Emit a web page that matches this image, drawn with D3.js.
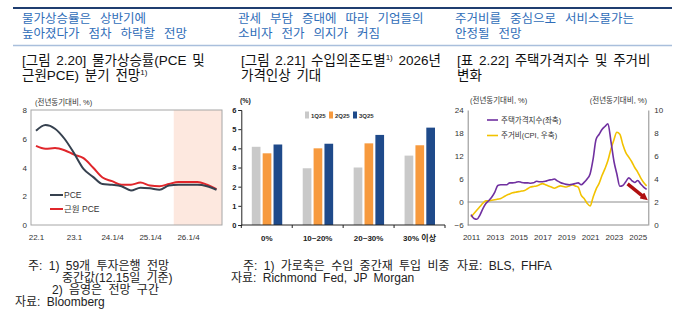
<!DOCTYPE html>
<html lang="ko">
  <head>
    <meta charset="utf-8">
    <script src="https://d3js.org/d3.v7.min.js"></script>
    <style>
      body {margin: 0; background: white;}
      svg {display: block; font-family: "Liberation Sans", "Noto Sans CJK KR", sans-serif;}
      .head {fill: #2f6db8; font-size: 12.5px; word-spacing: 5.5px;}
      .sub {fill: #111; font-size: 13.5px; word-spacing: 2px;}
      .note {fill: #222; font-size: 12px; word-spacing: 3px;}
    </style>
  </head>
  <body>
    <script type="text/javascript">
      // panel 1: PCE / core PCE, quarterly, with forecast from 25.4
      const quarters = ["22.1", "22.2", "22.3", "22.4", "23.1", "23.2", "23.3", "23.4",
        "24.1", "24.2", "24.3", "24.4", "25.1", "25.2", "25.3", "25.4",
        "26.1", "26.2", "26.3", "26.4"];
      const pce = [6.55, 6.95, 6.7, 6.0, 5.0, 3.9, 3.35, 2.85, 2.8, 2.7, 2.4, 2.6,
        2.55, 2.45, 2.75, 2.8, 2.8, 2.8, 2.7, 2.45];
      const corePce = [5.5, 5.3, 5.35, 5.2, 4.9, 4.65, 4.0, 3.3, 3.05, 2.8, 2.8, 2.95,
        2.75, 2.7, 2.85, 3.0, 3.0, 3.0, 2.8, 2.5];
      const pceTicks = ["22.1", "23.1", "24.1", "25.1", "26.1"];
      const pceTickLabels = ["22.1", "23.1", "24.1/4", "25.1/4", "26.1/4"];
      const forecastFrom = "25.4";

      // panel 2: expected 2026 price increase by import share
      const shares = ["0%", "10~20%", "20~30%", "30% 이상"];
      const surveys = ["1Q25", "2Q25", "3Q25"];
      const q1 = [4.08, 2.96, 3.0, 3.62];
      const q2 = [3.74, 4.0, 4.26, 4.16];
      const q3 = [4.2, 4.24, 4.7, 5.08];

      // panel 3: house price index (left) and shelter CPI (right), quarterly 2011-2025
      const housingYears = d3.range(2011, 2025.9, 0.25);
      const housePrice = [-3.3, -4.3, -4.5, -3.4, -1.7, -0.4, 0.4, 1.3,
        2.6, 4.3, 4.5, 4.5, 4.5, 5.0, 5.0, 5.1,
        5.3, 5.1, 5.0, 5.0, 4.9, 5.0, 5.4, 5.3,
        5.3, 5.4, 5.7, 5.8, 6.0, 5.5, 5.1, 4.8,
        4.6, 4.5, 4.6, 4.8, 5.0, 4.5, 5.1, 6.0,
        7.3, 11.1, 16.3, 17.6, 18.9, 19.7, 20.4, 15.9,
        10.7, 7.3, 4.1, 4.3, 5.3, 6.3, 5.6, 5.1,
        5.6, 4.7, 3.9, 3.3];
      const shelterCpi = [0.7, 1.0, 1.3, 1.6, 1.9, 2.1, 2.1, 2.15,
        2.2, 2.25, 2.3, 2.45, 2.6, 2.7, 2.8, 2.85,
        2.9, 2.95, 3.0, 3.15, 3.3, 3.35, 3.4, 3.5,
        3.6, 3.5, 3.4, 3.3, 3.2, 3.3, 3.4, 3.35,
        3.3, 3.4, 3.5, 3.4, 3.3, 2.6, 2.3, 1.9,
        1.65, 2.4, 3.1, 3.6, 4.3, 4.9, 5.6, 6.6,
        7.4, 8.06, 7.9, 7.0, 6.3, 5.9, 5.5, 5.0,
        4.6, 4.1, 3.7, 3.4];
      const yearTicks = [2011, 2013, 2015, 2017, 2019, 2021, 2023, 2025];
      const arrowFrom = [2024.15, 4.7];
      const arrowTo = [2025.6, 1.1];

      const w = 680;
      const h = 321;

      var svg = d3.select("body")
        .append("svg")
        .attr("width", w)
        .attr("height", h);

      // header rules
      svg.append("line").attr("x1", 13).attr("x2", 672).attr("y1", 8).attr("y2", 8)
        .attr("stroke", "#1f3d70").attr("stroke-width", 2);
      svg.append("line").attr("x1", 13).attr("x2", 672).attr("y1", 45.5).attr("y2", 45.5)
        .attr("stroke", "#a9bfdc").attr("stroke-width", 1.5);

      // blue headlines
      const heads = [
        [22, ["물가상승률은 상반기에", "높아졌다가 점차 하락할 전망"]],
        [238, ["관세 부담 증대에 따라 기업들의", "소비자 전가 의지가 커짐"]],
        [455, ["주거비를 중심으로 서비스물가는", "안정될 전망"]]
      ];
      heads.forEach(function(hd) {
        hd[1].forEach(function(t, i) {
          svg.append("text").attr("class", "head")
            .attr("x", hd[0]).attr("y", 22.5 + i * 15).text(t);
        });
      });

      // figure titles, superscript parts are objects {sup: ...}
      function subLine(x, y, parts) {
        var t = svg.append("text").attr("class", "sub").attr("x", x).attr("y", y);
        var shift = 0;
        parts.forEach(function(p) {
          if (typeof p === "object") {
            t.append("tspan").attr("dy", -5).style("font-size", "8px").text(p.sup);
            shift = 5;
          } else {
            t.append("tspan").attr("dy", shift).text(p);
            shift = 0;
          }
        });
      }
      subLine(22, 65, ["[그림 2.20] 물가상승률(PCE 및"]);
      subLine(22, 80, ["근원PCE) 분기 전망", {sup: "1)"}]);
      subLine(241, 65, ["[그림 2.21] 수입의존도별", {sup: "1)"}, " 2026년"]);
      subLine(241, 80, ["가격인상 기대"]);
      subLine(457, 65, ["[표 2.22] 주택가격지수 및 주거비"]);
      subLine(457, 80, ["변화"]);

      // ---------- panel 1 ----------
      const p1 = {left: 31, right: 222, top: 110, bottom: 225};
      var x1 = d3.scalePoint().domain(quarters).range([36, 216.5]);
      var y1 = d3.scaleLinear().domain([0, 8]).range([p1.bottom, p1.top]);

      // forecast shading
      svg.append("rect")
        .attr("x", x1(forecastFrom) - x1.step() / 2)
        .attr("y", p1.top)
        .attr("width", p1.right - x1(forecastFrom) + x1.step() / 2)
        .attr("height", p1.bottom - p1.top)
        .attr("fill", "#fde8df");

      svg.append("rect")
        .attr("x", p1.left).attr("y", p1.top)
        .attr("width", p1.right - p1.left).attr("height", p1.bottom - p1.top)
        .attr("fill", "none").attr("stroke", "#a6a6a6").attr("stroke-width", 1);

      var ax1 = svg.append("g")
        .attr("transform", "translate(" + p1.left + ",0)")
        .call(d3.axisLeft(y1).tickValues([0, 2, 4, 6, 8]).tickSize(0).tickPadding(4));
      var bx1 = svg.append("g")
        .attr("transform", "translate(0," + p1.bottom + ")")
        .call(d3.axisBottom(x1).tickValues(pceTicks).tickSize(0).tickPadding(9)
          .tickFormat(function(d, i) { return pceTickLabels[i]; }));
      [ax1, bx1].forEach(function(g) {
        g.select(".domain").remove();
        g.selectAll("text").style("font-size", "8px").attr("fill", "#333");
      });

      var line1 = function(vals) {
        return d3.line().x(function(d, i) { return x1(quarters[i]); })
          .y(function(d) { return y1(d); })
          .curve(d3.curveMonotoneX)(vals);
      };
      svg.append("path").attr("d", line1(corePce))
        .attr("fill", "none").attr("stroke", "#e0262b").attr("stroke-width", 2);
      svg.append("path").attr("d", line1(pce))
        .attr("fill", "none").attr("stroke", "#36414f").attr("stroke-width", 2);

      svg.append("text").attr("x", 35).attr("y", 104.5)
        .style("font-size", "7.5px").attr("fill", "#333").text("(전년동기대비, %)");

      // legend
      [["PCE", "#36414f"], ["근원 PCE", "#e0262b"]].forEach(function(l, i) {
        svg.append("line").attr("x1", 50).attr("x2", 63)
          .attr("y1", 195 + i * 14).attr("y2", 195 + i * 14)
          .attr("stroke", l[1]).attr("stroke-width", 2);
        svg.append("text").attr("x", 64).attr("y", 198 + i * 14)
          .style("font-size", "8.5px").attr("fill", "#333").text(l[0]);
      });

      // ---------- panel 2 ----------
      const p2 = {left: 241.3, right: 445, top: 110, bottom: 225};
      const barColors = ["#c9c9c9", "#f79a3e", "#1f4a8a"];
      const barSeries = [q1, q2, q3];
      var x2 = d3.scaleBand().domain(shares).range([p2.left, p2.right]);
      var xs = d3.scaleBand().domain(surveys)
        .range([10.5, x2.bandwidth() - 10]).paddingInner(0.2);
      var y2 = d3.scaleLinear().domain([0, 6]).range([p2.bottom, p2.top]);

      barSeries.forEach(function(vals, s) {
        svg.selectAll(".bar" + s)
          .data(vals)
          .enter()
          .append("rect")
          .attr("x", function(d, i) { return x2(shares[i]) + xs(surveys[s]); })
          .attr("y", function(d) { return y2(d); })
          .attr("width", xs.bandwidth())
          .attr("height", function(d) { return p2.bottom - y2(d); })
          .attr("fill", barColors[s]);
      });

      var ax2 = svg.append("g")
        .attr("transform", "translate(" + p2.left + ",0)")
        .call(d3.axisLeft(y2).ticks(6).tickSize(3).tickPadding(2));
      ax2.selectAll("text").style("font-size", "7.5px").style("font-weight", "bold").attr("fill", "#222");
      ax2.selectAll("line, path").attr("stroke", "#222");

      // bottom axis with ticks at category boundaries
      svg.append("line").attr("x1", p2.left).attr("x2", p2.right)
        .attr("y1", p2.bottom).attr("y2", p2.bottom).attr("stroke", "#222");
      svg.selectAll(".catTick")
        .data(shares.concat(["end"]))
        .enter()
        .append("line")
        .attr("x1", function(d, i) { return p2.left + i * x2.step(); })
        .attr("x2", function(d, i) { return p2.left + i * x2.step(); })
        .attr("y1", p2.bottom).attr("y2", p2.bottom + 3)
        .attr("stroke", "#222");
      svg.selectAll(".catLabel")
        .data(shares)
        .enter()
        .append("text")
        .attr("x", function(d) { return x2(d) + x2.bandwidth() / 2; })
        .attr("y", 241)
        .attr("text-anchor", "middle")
        .style("font-size", "8px").style("font-weight", "bold").attr("fill", "#222")
        .text(function(d) { return d; });

      svg.append("text").attr("x", 240).attr("y", 102.5)
        .style("font-size", "7px").style("font-weight", "bold").attr("fill", "#222").text("(%)");

      // legend
      surveys.forEach(function(s, i) {
        svg.append("rect").attr("x", 305 + i * 24).attr("y", 111.5)
          .attr("width", 4).attr("height", 7).attr("fill", barColors[i]);
        svg.append("text").attr("x", 311 + i * 24).attr("y", 117.5)
          .style("font-size", "6px").style("font-weight", "bold").attr("fill", "#333").text(s);
      });

      // ---------- panel 3 ----------
      const p3 = {left: 467.7, right: 648.3, top: 110, bottom: 225};
      var x3 = d3.scaleLinear().domain([2011, 2025]).range([471, 637.7]);
      var yL = d3.scaleLinear().domain([-6, 24]).range([p3.bottom, p3.top]);
      var yR = d3.scaleLinear().domain([0, 10]).range([p3.bottom, p3.top]);

      svg.append("line").attr("x1", p3.left).attr("x2", p3.right)
        .attr("y1", yL(0)).attr("y2", yL(0)).attr("stroke", "#8c8c8c");
      svg.append("line").attr("x1", p3.left).attr("x2", p3.right)
        .attr("y1", p3.bottom).attr("y2", p3.bottom).attr("stroke", "#8c8c8c");

      var axL = svg.append("g")
        .attr("transform", "translate(" + p3.left + ",0)")
        .call(d3.axisLeft(yL).tickValues([-6, 0, 6, 12, 18, 24]).tickSize(0).tickPadding(4));
      var axR = svg.append("g")
        .attr("transform", "translate(" + p3.right + ",0)")
        .call(d3.axisRight(yR).tickValues([0, 2, 4, 6, 8, 10]).tickSize(0).tickPadding(6));
      var bx3 = svg.append("g")
        .attr("transform", "translate(0," + p3.bottom + ")")
        .call(d3.axisBottom(x3).tickValues(yearTicks).tickSize(0).tickPadding(9)
          .tickFormat(d3.format("d")));
      bx3.select(".domain").remove();
      [axL, axR].forEach(function(g) { g.select(".domain").attr("stroke", "#8c8c8c"); });
      [axL, axR, bx3].forEach(function(g) {
        g.selectAll("text").style("font-size", "8px").attr("fill", "#333");
      });

      svg.append("path")
        .attr("d", d3.line().x(function(d, i) { return x3(housingYears[i]); })
          .y(function(d) { return yR(d); }).curve(d3.curveMonotoneX)(shelterCpi))
        .attr("fill", "none").attr("stroke", "#f2c200").attr("stroke-width", 1.6);
      svg.append("path")
        .attr("d", d3.line().x(function(d, i) { return x3(housingYears[i]); })
          .y(function(d) { return yL(d); }).curve(d3.curveMonotoneX)(housePrice))
        .attr("fill", "none").attr("stroke", "#7030a0").attr("stroke-width", 1.6);

      // downward arrow
      svg.append("defs").append("marker")
        .attr("id", "head").attr("viewBox", "0 0 10 10")
        .attr("refX", 5).attr("refY", 5)
        .attr("markerWidth", 2.2).attr("markerHeight", 2.2)
        .attr("orient", "auto")
        .append("path").attr("d", "M0,0L10,5L0,10z").attr("fill", "#b01010");
      svg.append("line")
        .attr("x1", x3(arrowFrom[0])).attr("y1", yL(arrowFrom[1]))
        .attr("x2", x3(arrowTo[0])).attr("y2", yL(arrowTo[1]))
        .attr("stroke", "#b01010").attr("stroke-width", 3.5)
        .attr("marker-end", "url(#head)");

      svg.append("text").attr("x", 470).attr("y", 102.5)
        .style("font-size", "7.5px").attr("fill", "#333").text("(전년동기대비, %)");
      svg.append("text").attr("x", 647).attr("y", 102.5).attr("text-anchor", "end")
        .style("font-size", "7.5px").attr("fill", "#333").text("(전년동기대비, %)");

      [["주택가격지수(좌축)", "#7030a0"], ["주거비(CPI, 우축)", "#f2c200"]].forEach(function(l, i) {
        svg.append("line").attr("x1", 487).attr("x2", 498)
          .attr("y1", 120 + i * 15.5).attr("y2", 120 + i * 15.5)
          .attr("stroke", l[1]).attr("stroke-width", 1.6);
        svg.append("text").attr("x", 501).attr("y", 122.7 + i * 15.5)
          .style("font-size", "7.5px").attr("fill", "#333").text(l[0]);
      });

      // footnotes
      const notes = [
        [28, 269.5, "주: 1) 59개 투자은행 전망"],
        [62, 281.5, "중간값(12.15일 기준)"],
        [52, 293.5, "2) 음영은 전망 구간"],
        [15, 306, "자료: Bloomberg"],
        [243, 269.5, "주: 1) 가로축은 수입 중간재 투입 비중"],
        [231, 281.5, "자료: Richmond Fed, JP Morgan"],
        [457, 269.5, "자료: BLS, FHFA"]
      ];
      notes.forEach(function(n) {
        svg.append("text").attr("class", "note").attr("x", n[0]).attr("y", n[1]).text(n[2]);
      });
    </script>
  </body>
</html>
